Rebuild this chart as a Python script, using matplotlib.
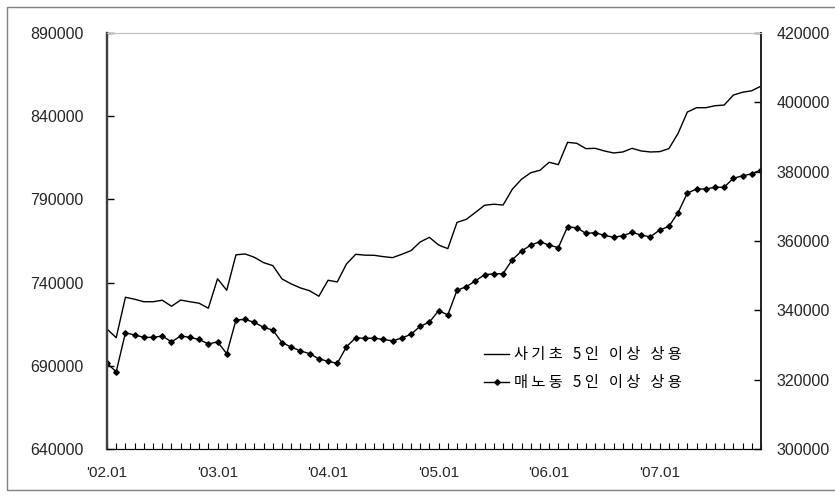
import numpy as np
import matplotlib
matplotlib.use('Agg')
import matplotlib.pyplot as plt
from matplotlib.lines import Line2D
from matplotlib.patches import Rectangle

# monthly series, 2002.01 - 2007.12
months = [f"'{y:02d}.{m:02d}" for y in range(2, 8) for m in range(1, 13)]
year_labels = ["'02.01", "'03.01", "'04.01", "'05.01", "'06.01", "'07.01"]

# 사기초 5인 이상 상용 (left axis)
sagicho = [
    712100, 706900, 731200, 730000, 728500, 728500, 729400, 725800, 729500, 728500, 727600, 724600,
    742300, 735400, 756700, 757200, 755200, 752000, 750200, 742200, 739200, 736800, 735100, 731800,
    741400, 740400, 751200, 757000, 756500, 756400, 755600, 755000, 757000, 759200, 764400, 767200,
    762600, 760400, 776200, 778000, 782200, 786500, 787100, 786600, 796100, 802100, 806000, 807500,
    812300, 810900, 824300, 823700, 820500, 820700, 819100, 817900, 818500, 820700, 819100, 818500,
    818700, 820500, 829700, 842500, 845100, 845100, 846300, 846700, 852700, 854400, 855300, 858100,
]

# 매노동 5인 이상 상용 (right axis)
maenodong = [
    324700, 322300, 333500, 332900, 332200, 332200, 332600, 330900, 332600, 332200, 331600, 330300,
    330900, 327500, 337200, 337400, 336500, 335100, 334300, 330700, 329400, 328300, 327500, 326000,
    325300, 324700, 329500, 332100, 331900, 332000, 331600, 331200, 332000, 333100, 335400, 336600,
    339900, 338700, 345800, 346800, 348500, 350300, 350500, 350600, 354600, 357100, 358800, 359800,
    358800, 358100, 364100, 363800, 362200, 362400, 361600, 361100, 361500, 362500, 361700, 361200,
    363200, 364200, 368200, 373800, 375000, 375000, 375500, 375500, 378100, 378800, 379400, 380500,
]

label_a = "사 기 초   5 인   이 상   상 용"
label_b = "매 노 동   5 인   이 상   상 용"

plt.rcParams['font.family'] = ['Liberation Sans', 'Noto Sans CJK KR', 'DejaVu Sans']

fig = plt.figure(figsize=(8.35, 4.97), dpi=100)
ax = fig.add_axes([107 / 835, 48 / 497, 654 / 835, 416 / 497])
ax2 = ax.twinx()

x = np.arange(len(months))
ax.plot(x, sagicho, color='black', lw=1.0)
ax2.plot(x, maenodong, color='black', lw=1.0, marker='D', markersize=2.8)

ax.set_xlim(0, len(months) - 1)
ax.set_ylim(640000, 890000)
ax2.set_ylim(300000, 420000)
ax.set_yticks(np.arange(640000, 890001, 50000))
ax2.set_yticks(np.arange(300000, 420001, 20000))
ax.set_yticklabels([f"{v}" for v in range(640000, 890001, 50000)])
ax2.set_yticklabels([f"{v}" for v in range(300000, 420001, 20000)])

ax.set_xticks(x[::12])
ax.set_xticklabels(year_labels)
ax.set_xticks(x, minor=True)

tick_color = '#262626'
ax.tick_params(axis='y', direction='in', length=5, width=1, labelsize=11.5, pad=17,
               labelcolor=tick_color)
ax2.tick_params(axis='y', direction='in', length=5, width=1, labelsize=11.5, pad=11,
                labelcolor=tick_color)
ax.tick_params(axis='x', which='both', direction='in', length=4, width=0.8, labelsize=11,
               pad=12, labelcolor=tick_color)

for a in (ax, ax2):
    a.spines['top'].set_color('#c0c0c0')
    a.spines['left'].set_color('#404040')
    a.spines['left'].set_linewidth(1.6)
    a.spines['bottom'].set_color('black')
    a.spines['right'].set_color('#202020')
    a.spines['right'].set_linewidth(1.2)

handles = [
    Line2D([], [], color='black', lw=1.0),
    Line2D([], [], color='black', lw=1.0, marker='D', markersize=2.8),
]
ax.legend(handles, [label_a, label_b], loc='upper left', bbox_to_anchor=(0.556, 0.28),
          frameon=False, handlelength=1.6, handletextpad=0.35, labelspacing=0.7,
          prop={'family': ['Noto Sans CJK KR', 'DejaVu Sans'], 'size': 11})

# thin frame around the whole chart
fig.patches.append(Rectangle((7 / 835, 7 / 497), 830 / 835, 483 / 497, transform=fig.transFigure,
                             fill=False, edgecolor='#808080', lw=1.0))

fig.savefig('out.png', dpi=100)
